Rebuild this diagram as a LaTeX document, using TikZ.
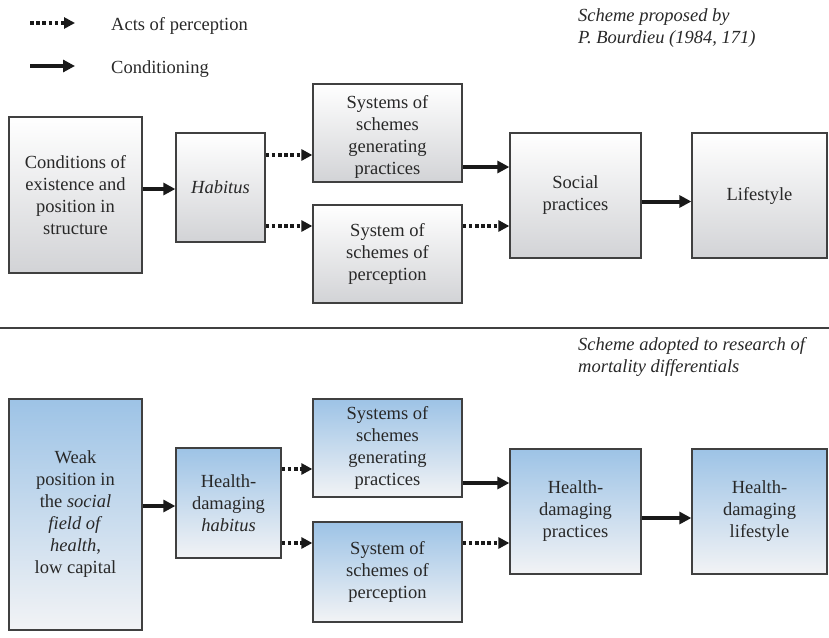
\documentclass[tikz,border=0pt]{standalone}
\usepackage{fontspec}
\setmainfont{Liberation Serif}
\usetikzlibrary{arrows.meta}
\definecolor{boxgray}{RGB}{210,211,214}
\definecolor{boxblue}{RGB}{157,195,230}
\definecolor{boxwhite}{RGB}{242,243,245}
\definecolor{edgegray}{RGB}{64,64,64}
\definecolor{txt}{RGB}{40,40,40}
\newcommand{\bxfont}{\fontsize{18.5}{22}\selectfont}
\tikzset{
  box/.style={draw=edgegray, line width=1.3pt, inner sep=0pt, align=center, text=txt, font=\bxfont},
  graybox/.style={box, top color=white, bottom color=boxgray},
  bluebox/.style={box, top color=boxblue, bottom color=boxwhite},
  plain/.style={inner sep=0pt, text=txt, font=\bxfont},
  cond/.style={draw=black!90, line width=4pt, -{Triangle[length=12pt,width=12pt]}},
  perc/.style={draw=black!90, line width=4pt, dash pattern=on 3.5pt off 2.7pt, -{Triangle[length=11pt,width=11pt]}},
}
\begin{document}
\begin{tikzpicture}[x=1pt,y=-1pt]
\useasboundingbox (0,0) rectangle (829,637);

% legend
\coordinate (l1a) at (30,23);
\coordinate (l1b) at (75,23);
\coordinate (l2a) at (30,66);
\coordinate (l2b) at (75,66);
\draw[perc] (l1a) -- (l1b);
\draw[cond] (l2a) -- (l2b);
\node[plain, anchor=west] (lt1) at (111,26) {Acts of perception};
\node[plain, anchor=west] (lt2) at (111,69) {Conditioning};

\node[plain, anchor=north west, align=left, font=\bxfont\itshape] (cap1) at (578,8) {Scheme proposed by\\P. Bourdieu (1984, 171)};

% top scheme
\node[graybox, minimum width=133pt, minimum height=156pt] (A) at (75.5,195) {Conditions of\\existence and\\position in\\structure};
\node[graybox, minimum width=89pt, minimum height=109pt] (H) at (220.5,187.5) {\textit{Habitus}};
\node[graybox, minimum width=149pt, minimum height=98pt] (G) at (387.5,133) {};
\begin{scope}
  \clip (G.north west) rectangle (G.east |- 0,178);
  \node[plain, align=center] (Gt) at ([yshift=-4pt]G.center) {Systems of\\schemes\\generating\\practices};
\end{scope}
\node[graybox, minimum width=149pt, minimum height=98pt] (P) at (387.5,254) {System of\\schemes of\\perception};
\node[graybox, minimum width=131pt, minimum height=125pt] (S) at (575.5,195.5) {Social\\practices};
\node[graybox, minimum width=135pt, minimum height=125pt] (L) at (759.5,195.5) {Lifestyle};

\draw[cond] (A.east |- 0,189) -- (H.west |- 0,189);
\draw[perc] (H.east |- 0,155) -- (G.west |- 0,155);
\draw[perc] (H.east |- 0,226) -- (P.west |- 0,226);
\draw[cond] (G.east |- 0,167) -- (S.west |- 0,167);
\draw[perc] (P.east |- 0,226) -- (S.west |- 0,226);
\draw[cond] (S.east |- 0,201.5) -- (L.west |- 0,201.5);

% divider
\draw[edgegray, line width=1.2pt] (0,328) -- (829,328);

\node[plain, anchor=north west, align=left, font=\bxfont\itshape] (cap2) at (578,337) {Scheme adopted to research of\\mortality differentials};

% bottom scheme
\node[bluebox, minimum width=133pt, minimum height=231pt] (W) at (75.5,514.5) {Weak\\position in\\the \textit{social}\\\textit{field of}\\\textit{health},\\low capital};
\node[bluebox, minimum width=105pt, minimum height=110pt] (H2) at (228.5,503) {Health-\\damaging\\\textit{habitus}};
\node[bluebox, minimum width=149pt, minimum height=98pt] (G2) at (387.5,448) {Systems of\\schemes\\generating\\practices};
\node[bluebox, minimum width=149pt, minimum height=100pt] (P2) at (387.5,572) {System of\\schemes of\\perception};
\node[bluebox, minimum width=131pt, minimum height=125pt] (S2) at (575.5,511.5) {Health-\\damaging\\practices};
\node[bluebox, minimum width=135pt, minimum height=125pt] (L2) at (759.5,511.5) {Health-\\damaging\\lifestyle};

\draw[cond] (W.east |- 0,506) -- (H2.west |- 0,506);
\draw[perc] (H2.east |- 0,469) -- (G2.west |- 0,469);
\draw[perc] (H2.east |- 0,543) -- (P2.west |- 0,543);
\draw[cond] (G2.east |- 0,483) -- (S2.west |- 0,483);
\draw[perc] (P2.east |- 0,543) -- (S2.west |- 0,543);
\draw[cond] (S2.east |- 0,518) -- (L2.west |- 0,518);
\end{tikzpicture}
\end{document}
